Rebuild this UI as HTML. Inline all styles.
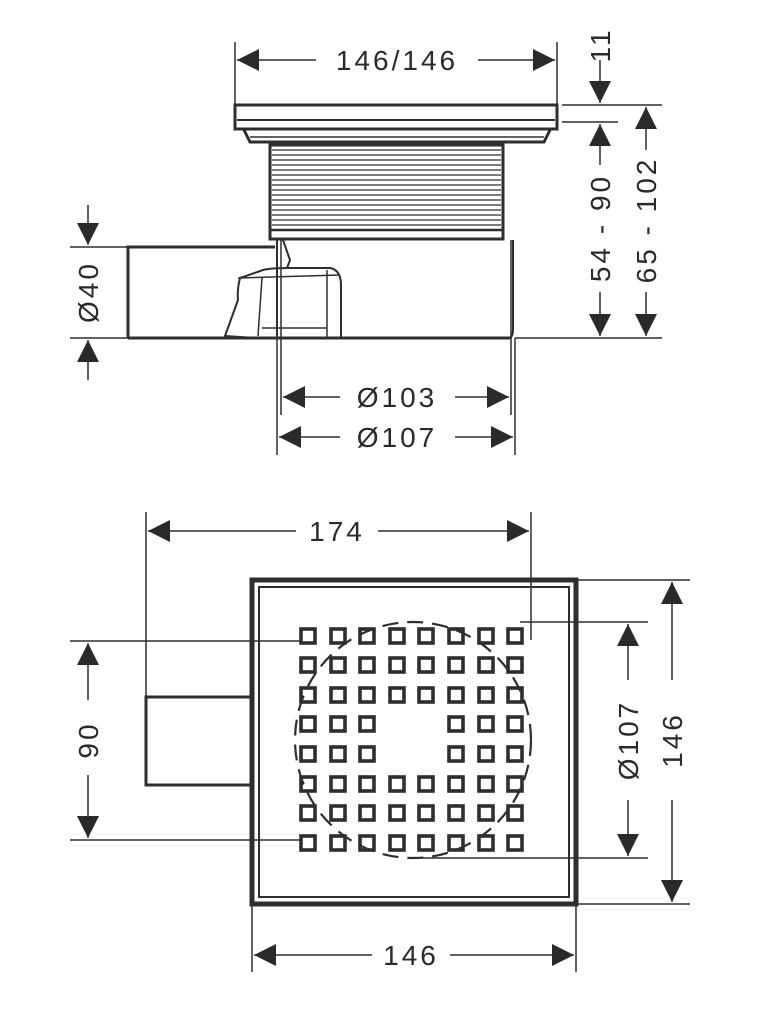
<!DOCTYPE html>
<html><head><meta charset="utf-8"><style>
html,body{margin:0;padding:0;background:#fff;}
svg{display:block;}
text{font-family:"Liberation Sans","DejaVu Sans",sans-serif;font-size:28px;fill:#2a2a2a;letter-spacing:3px;}
</style></head><body>
<svg width="757" height="1024" viewBox="0 0 757 1024" xmlns="http://www.w3.org/2000/svg">
<defs>
<marker id="a" viewBox="0 0 10 10" refX="10" refY="5" markerWidth="22" markerHeight="22" markerUnits="userSpaceOnUse" orient="auto-start-reverse"><path d="M0,0 L10,5 L0,10 z" fill="#2a2a2a"/></marker>
</defs>
<g stroke="#2e2e2e" fill="none">
<line x1="235" y1="42" x2="235" y2="104" stroke-width="1.5"/>
<line x1="557" y1="42" x2="557" y2="104" stroke-width="1.5"/>
<line x1="237" y1="60" x2="316" y2="60" stroke-width="1.5" marker-start="url(#a)"/>
<line x1="478" y1="60" x2="555" y2="60" stroke-width="1.5" marker-end="url(#a)"/>
<rect x="235" y="105" width="322" height="24" stroke-width="3"/>
<line x1="237" y1="120" x2="555" y2="120" stroke-width="2"/>
<path d="M244,130 L250,142 L544,142 L550,130" stroke-width="3"/>
<line x1="250" y1="137" x2="544" y2="137" stroke-width="1.5"/>
<rect x="270" y="145" width="233" height="94" stroke-width="3"/>
<g stroke-width="1.2">
<line x1="272" y1="150" x2="501" y2="150"/><line x1="272" y1="155" x2="501" y2="155"/>
<line x1="272" y1="160" x2="501" y2="160"/><line x1="272" y1="165" x2="501" y2="165"/>
<line x1="272" y1="170" x2="501" y2="170"/><line x1="272" y1="175" x2="501" y2="175"/>
<line x1="272" y1="180" x2="501" y2="180"/><line x1="272" y1="185" x2="501" y2="185"/>
<line x1="272" y1="190" x2="501" y2="190"/><line x1="272" y1="195" x2="501" y2="195"/>
<line x1="272" y1="200" x2="501" y2="200"/><line x1="272" y1="205" x2="501" y2="205"/>
<line x1="272" y1="210" x2="501" y2="210"/><line x1="272" y1="215" x2="501" y2="215"/>
<line x1="272" y1="220" x2="501" y2="220"/><line x1="272" y1="225" x2="501" y2="225"/>
</g>
<line x1="270" y1="230" x2="503" y2="230" stroke-width="2.5"/>
<path d="M277,240 L277,338 L510,338 Q513,336 513,330 L513,240" stroke-width="2"/>
<line x1="128" y1="338" x2="510" y2="338" stroke-width="3"/>
<path d="M275,247 L128,247 L128,338" stroke-width="3"/>
<path d="M283,240 L290,260 L287,268 L330,268 Q341,270 341,285 L341,338" stroke-width="2"/>
<path d="M290,268 Q270,268 263,270 L240,278 Q237,290 238,300 L225,336 L255,338" stroke-width="2"/>
<line x1="238" y1="278" x2="340" y2="275" stroke-width="1.5"/>
<line x1="327" y1="270" x2="327" y2="338" stroke-width="1.5"/>
<line x1="262" y1="278" x2="258" y2="336" stroke-width="1.5"/>
<line x1="262" y1="328" x2="327" y2="328" stroke-width="1.5"/>
<line x1="70" y1="247" x2="128" y2="247" stroke-width="1.5"/>
<line x1="70" y1="338" x2="128" y2="338" stroke-width="1.5"/>
<line x1="88" y1="205" x2="88" y2="245" stroke-width="1.5" marker-end="url(#a)"/>
<line x1="88" y1="380" x2="88" y2="340" stroke-width="1.5" marker-end="url(#a)"/>
<line x1="281" y1="240" x2="281" y2="415" stroke-width="1.5"/>
<line x1="511" y1="240" x2="511" y2="415" stroke-width="1.5"/>
<line x1="277" y1="338" x2="277" y2="455" stroke-width="1.5"/>
<line x1="515" y1="338" x2="515" y2="455" stroke-width="1.5"/>
<line x1="283" y1="397" x2="340" y2="397" stroke-width="1.5" marker-start="url(#a)"/>
<line x1="455" y1="397" x2="509" y2="397" stroke-width="1.5" marker-end="url(#a)"/>
<line x1="279" y1="437" x2="340" y2="437" stroke-width="1.5" marker-start="url(#a)"/>
<line x1="455" y1="437" x2="513" y2="437" stroke-width="1.5" marker-end="url(#a)"/>
<line x1="562" y1="105" x2="662" y2="105" stroke-width="1.5"/>
<line x1="562" y1="122" x2="618" y2="122" stroke-width="1.5"/>
<line x1="515" y1="338" x2="662" y2="338" stroke-width="1.5"/>
<line x1="600" y1="60" x2="600" y2="103" stroke-width="1.5" marker-end="url(#a)"/>
<line x1="600" y1="165" x2="600" y2="124" stroke-width="1.5" marker-end="url(#a)"/>
<line x1="600" y1="292" x2="600" y2="336" stroke-width="1.5" marker-end="url(#a)"/>
<line x1="646" y1="150" x2="646" y2="107" stroke-width="1.5" marker-end="url(#a)"/>
<line x1="646" y1="292" x2="646" y2="336" stroke-width="1.5" marker-end="url(#a)"/>

<line x1="146" y1="512" x2="146" y2="697" stroke-width="1.5"/>
<line x1="531" y1="512" x2="531" y2="640" stroke-width="1.5"/>
<line x1="148" y1="531" x2="296" y2="531" stroke-width="1.5" marker-start="url(#a)"/>
<line x1="378" y1="531" x2="529" y2="531" stroke-width="1.5" marker-end="url(#a)"/>
<rect x="252" y="580" width="324" height="324" stroke-width="5"/>
<rect x="259" y="587" width="310" height="310" stroke-width="2"/>
<path d="M250,697 L146,697 L146,785 L250,785" stroke-width="3"/>
<line x1="70" y1="641" x2="300" y2="641" stroke-width="1.5"/>
<line x1="70" y1="840" x2="300" y2="840" stroke-width="1.5"/>
<line x1="88" y1="700" x2="88" y2="643" stroke-width="1.5" marker-end="url(#a)"/>
<line x1="88" y1="775" x2="88" y2="838" stroke-width="1.5" marker-end="url(#a)"/>
<line x1="520" y1="622" x2="648" y2="622" stroke-width="1.5"/>
<line x1="420" y1="858" x2="648" y2="858" stroke-width="1.5"/>
<line x1="628" y1="680" x2="628" y2="624" stroke-width="1.5" marker-end="url(#a)"/>
<line x1="628" y1="800" x2="628" y2="856" stroke-width="1.5" marker-end="url(#a)"/>
<line x1="578" y1="580" x2="690" y2="580" stroke-width="1.5"/>
<line x1="578" y1="904" x2="690" y2="904" stroke-width="1.5"/>
<line x1="672" y1="680" x2="672" y2="582" stroke-width="1.5" marker-end="url(#a)"/>
<line x1="672" y1="800" x2="672" y2="902" stroke-width="1.5" marker-end="url(#a)"/>
<line x1="252" y1="906" x2="252" y2="972" stroke-width="1.5"/>
<line x1="576" y1="906" x2="576" y2="972" stroke-width="1.5"/>
<line x1="254" y1="955" x2="372" y2="955" stroke-width="1.5" marker-start="url(#a)"/>
<line x1="450" y1="955" x2="574" y2="955" stroke-width="1.5" marker-end="url(#a)"/>
<circle cx="413" cy="740" r="118" stroke-width="2.2" stroke-dasharray="16 9"/>
<g stroke-width="3.6">
<rect x="301" y="629" width="14" height="14"/><rect x="331" y="629" width="14" height="14"/><rect x="360" y="629" width="14" height="14"/><rect x="390" y="629" width="14" height="14"/><rect x="419" y="629" width="14" height="14"/><rect x="449" y="629" width="14" height="14"/><rect x="479" y="629" width="14" height="14"/><rect x="508" y="629" width="14" height="14"/>
<rect x="301" y="658" width="14" height="14"/><rect x="331" y="658" width="14" height="14"/><rect x="360" y="658" width="14" height="14"/><rect x="390" y="658" width="14" height="14"/><rect x="419" y="658" width="14" height="14"/><rect x="449" y="658" width="14" height="14"/><rect x="479" y="658" width="14" height="14"/><rect x="508" y="658" width="14" height="14"/>
<rect x="301" y="688" width="14" height="14"/><rect x="331" y="688" width="14" height="14"/><rect x="360" y="688" width="14" height="14"/><rect x="390" y="688" width="14" height="14"/><rect x="419" y="688" width="14" height="14"/><rect x="449" y="688" width="14" height="14"/><rect x="479" y="688" width="14" height="14"/><rect x="508" y="688" width="14" height="14"/>
<rect x="301" y="717" width="14" height="14"/><rect x="331" y="717" width="14" height="14"/><rect x="360" y="717" width="14" height="14"/><rect x="449" y="717" width="14" height="14"/><rect x="479" y="717" width="14" height="14"/><rect x="508" y="717" width="14" height="14"/>
<rect x="301" y="747" width="14" height="14"/><rect x="331" y="747" width="14" height="14"/><rect x="360" y="747" width="14" height="14"/><rect x="449" y="747" width="14" height="14"/><rect x="479" y="747" width="14" height="14"/><rect x="508" y="747" width="14" height="14"/>
<rect x="301" y="777" width="14" height="14"/><rect x="331" y="777" width="14" height="14"/><rect x="360" y="777" width="14" height="14"/><rect x="390" y="777" width="14" height="14"/><rect x="419" y="777" width="14" height="14"/><rect x="449" y="777" width="14" height="14"/><rect x="479" y="777" width="14" height="14"/><rect x="508" y="777" width="14" height="14"/>
<rect x="301" y="806" width="14" height="14"/><rect x="331" y="806" width="14" height="14"/><rect x="360" y="806" width="14" height="14"/><rect x="390" y="806" width="14" height="14"/><rect x="419" y="806" width="14" height="14"/><rect x="449" y="806" width="14" height="14"/><rect x="479" y="806" width="14" height="14"/><rect x="508" y="806" width="14" height="14"/>
<rect x="301" y="836" width="14" height="14"/><rect x="331" y="836" width="14" height="14"/><rect x="360" y="836" width="14" height="14"/><rect x="390" y="836" width="14" height="14"/><rect x="419" y="836" width="14" height="14"/><rect x="449" y="836" width="14" height="14"/><rect x="479" y="836" width="14" height="14"/><rect x="508" y="836" width="14" height="14"/>
</g>
</g>
<text x="397" y="70" text-anchor="middle">146/146</text>
<text x="397" y="407" text-anchor="middle">Ø103</text>
<text x="397" y="447" text-anchor="middle">Ø107</text>
<text x="337" y="541" text-anchor="middle">174</text>
<text x="411" y="965" text-anchor="middle">146</text>
<text transform="translate(98,292) rotate(-90)" text-anchor="middle">Ø40</text>
<text transform="translate(98,740) rotate(-90)" text-anchor="middle">90</text>
<text transform="translate(610,228) rotate(-90)" text-anchor="middle">54 - 90</text>
<text transform="translate(656,220) rotate(-90)" text-anchor="middle">65 - 102</text>
<text transform="translate(610,45) rotate(-90)" text-anchor="middle">11</text>
<text transform="translate(638,740) rotate(-90)" text-anchor="middle">Ø107</text>
<text transform="translate(682,740) rotate(-90)" text-anchor="middle">146</text>
</svg>
</body></html>
